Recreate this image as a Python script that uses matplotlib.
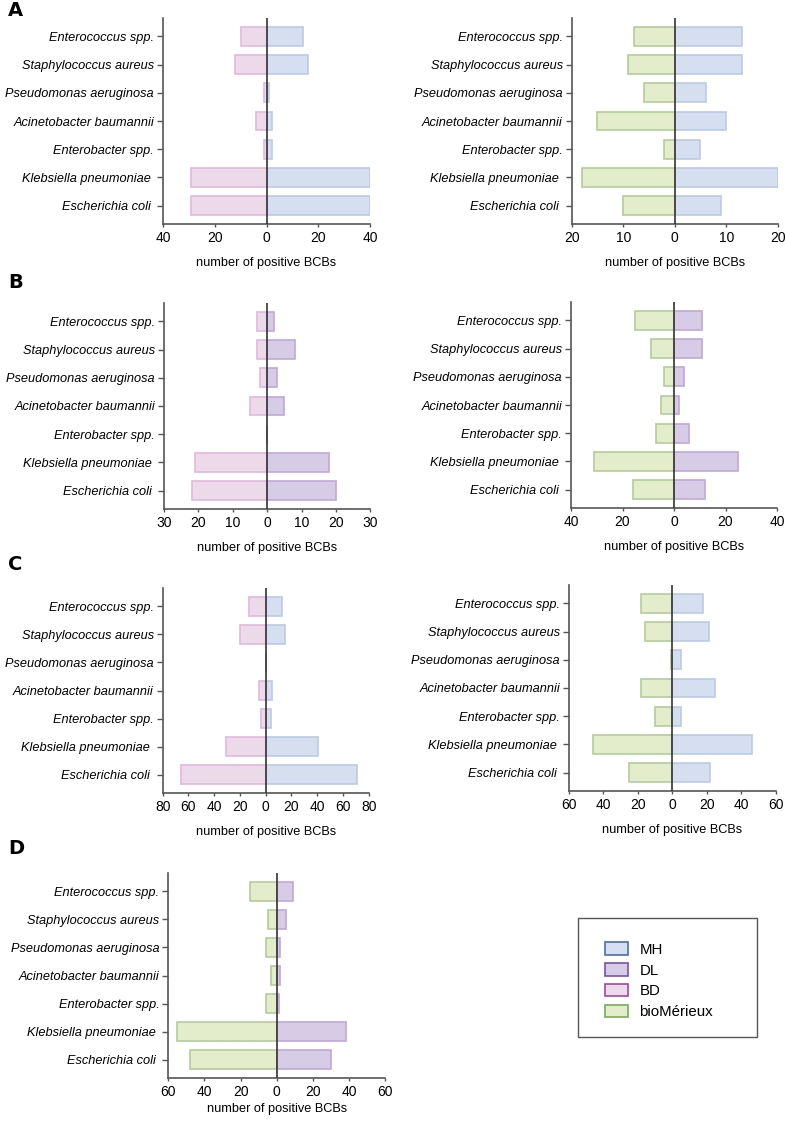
import matplotlib
matplotlib.use("Agg")
import matplotlib.pyplot as plt
from matplotlib.patches import Patch, Rectangle

plt.rcParams['font.family'] = ['Liberation Sans', 'DejaVu Sans']

species = ["Enterococcus spp.", "Staphylococcus aureus", "Pseudomonas aeruginosa",
           "Acinetobacter baumannii", "Enterobacter spp.", "Klebsiella pneumoniae ",
           "Escherichia coli "]

# Panel A
a_left_BD = [10, 12, 1, 4, 1, 29, 29]
a_left_MH = [14, 16, 1, 2, 2, 40, 40]
a_right_bio = [8, 9, 6, 15, 2, 18, 10]
a_right_MH = [13, 13, 6, 10, 5, 20, 9]
# Panel B
b_left_BD = [3, 3, 2, 5, 0, 21, 22]
b_left_DL = [2, 8, 3, 5, 0, 18, 20]
b_right_bio = [15, 9, 4, 5, 7, 31, 16]
b_right_DL = [11, 11, 4, 2, 6, 25, 12]
# Panel C
c_left_BD = [13, 20, 0, 5, 4, 31, 66]
c_left_MH = [13, 15, 0, 5, 4, 41, 71]
c_right_bio = [18, 16, 1, 18, 10, 46, 25]
c_right_MH = [18, 21, 5, 25, 5, 46, 22]
# Panel D
d_bio = [15, 5, 6, 3, 6, 55, 48]
d_DL = [9, 5, 2, 2, 1, 38, 30]

fills = {"MH": "#d6dff0", "DL": "#d6cce6", "BD": "#ecd9ea", "bioMérieux": "#e3edcc"}
edges = {"MH": "#bccbe3", "DL": "#c0a8d8", "BD": "#e2b9dc", "bioMérieux": "#b5cc9a"}
legend_edges = {"MH": "#4a6fa8", "DL": "#7b52a8", "BD": "#a04aa0", "bioMérieux": "#7aaa5a"}

fig = plt.figure(figsize=(7.85, 11.23), dpi=100)
W, H = 785.0, 1123.0


def make_ax(x0, x1, y0, y1):
    return fig.add_axes([x0 / W, 1 - y1 / H, (x1 - x0) / W, (y1 - y0) / H])


def panel(ax, left_vals, right_vals, left_key, right_key, lim, ticks):
    n = len(species)
    ypos = list(range(n))[::-1]
    ax.barh(ypos, [-v for v in left_vals], height=0.66, color=fills[left_key],
            edgecolor=edges[left_key], linewidth=1.2)
    ax.barh(ypos, right_vals, height=0.66, color=fills[right_key],
            edgecolor=edges[right_key], linewidth=1.2)
    ax.axvline(0, color="#333333", lw=1.2, zorder=5)
    ax.set_xlim(-lim, lim)
    ax.set_ylim(-0.65, n - 0.35)
    ax.set_yticks(ypos)
    ax.set_yticklabels(species, fontstyle="italic", fontsize=9.2)
    ax.set_xticks(ticks)
    ax.set_xticklabels([str(abs(t)) for t in ticks], fontsize=10)
    ax.spines["top"].set_visible(False)
    ax.spines["right"].set_visible(False)
    for s in ("left", "bottom"):
        ax.spines[s].set_color("#555555")
        ax.spines[s].set_linewidth(1.2)
    ax.tick_params(axis="y", length=4, width=1, color="#555555", pad=2.5)
    ax.tick_params(axis="x", length=2, width=1, color="#555555", pad=3)
    ax.set_xlabel("number of positive BCBs", fontsize=9.2, labelpad=9)


axA1 = make_ax(163, 370, 18, 224)
panel(axA1, a_left_BD, a_left_MH, "BD", "MH", 40, [-40, -20, 0, 20, 40])
axA2 = make_ax(571.7, 777.7, 18, 224)
panel(axA2, a_right_bio, a_right_MH, "bioMérieux", "MH", 20, [-20, -10, 0, 10, 20])

axB1 = make_ax(164, 370.3, 303, 509)
panel(axB1, b_left_BD, b_left_DL, "BD", "DL", 30, [-30, -20, -10, 0, 10, 20, 30])
axB2 = make_ax(571, 777, 302, 508)
panel(axB2, b_right_bio, b_right_DL, "bioMérieux", "DL", 40, [-40, -20, 0, 20, 40])

axC1 = make_ax(162.7, 368.7, 588, 793)
panel(axC1, c_left_BD, c_left_MH, "BD", "MH", 80,
      [-80, -60, -40, -20, 0, 20, 40, 60, 80])
axC2 = make_ax(569, 775.7, 585, 791)
panel(axC2, c_right_bio, c_right_MH, "bioMérieux", "MH", 60,
      [-60, -40, -20, 0, 20, 40, 60])

axD = make_ax(168.3, 385.3, 873, 1078)
panel(axD, d_bio, d_DL, "bioMérieux", "DL", 60, [-60, -40, -20, 0, 20, 40, 60])
axD.xaxis.labelpad = 3

for letter, y in [("A", 10), ("B", 282), ("C", 565), ("D", 849)]:
    fig.text(8 / W, 1 - y / H, letter, fontsize=14, fontweight="bold",
             va="center", ha="left", family="DejaVu Sans")

# legend frame
fig.add_artist(Rectangle((578 / W, 1 - 1036.7 / H), (757 - 578) / W, (1036.7 - 917.7) / H,
                         transform=fig.transFigure, facecolor="white",
                         edgecolor="#555555", linewidth=1.0, zorder=1))

handles = [Patch(facecolor=fills[k], edgecolor=legend_edges[k], linewidth=1.2, label=k)
           for k in ["MH", "DL", "BD", "bioMérieux"]]
leg = fig.legend(handles=handles, loc="upper left",
                 bbox_to_anchor=(605 / W, 1 - 942.5 / H), fontsize=10.8,
                 frameon=False, borderpad=0, labelspacing=0.42, handlelength=1.55,
                 handleheight=0.9, handletextpad=0.75, borderaxespad=0)
leg.set_zorder(2)

fig.savefig("out.png", dpi=100)
